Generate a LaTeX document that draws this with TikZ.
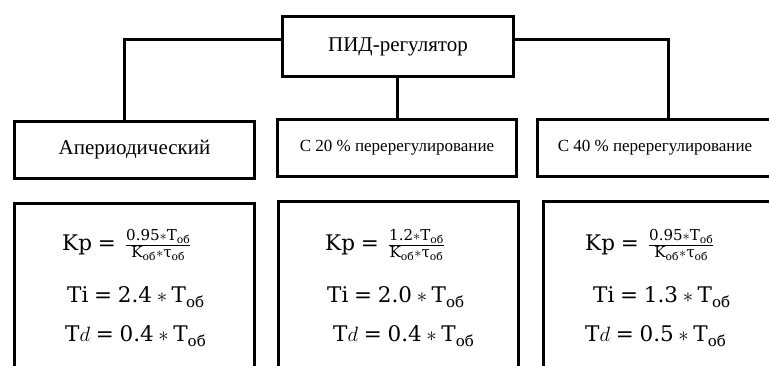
\documentclass[tikz,border=0pt]{standalone}
\usepackage{fontspec}
\usepackage{amsmath}
\setmainfont{Liberation Serif}
\newfontfamily\formfont{DejaVu Serif}
\newcommand{\tob}{\text{T}_{\text{об}}}
\newcommand{\eq}{\mathrel{\text{=}}}
\newcommand{\kpfrac}[1]{\text{Kp} \eq \,\frac{\text{#1}\ast\tob}{\text{K}_{\text{об}}\ast\text{τ}_{\text{об}}}}
\begin{document}
\begin{tikzpicture}[x=1pt, y=-1pt,
  box/.style={draw, line width=3pt, inner sep=0pt},
  conn/.style={line width=3pt},
  formula/.style={anchor=west, inner sep=0pt, font=\formfont\fontsize{21.5}{26}\selectfont}]
  \useasboundingbox (0,0) rectangle (769,365);
  \clip (0,0) rectangle (769,365);

  % top block
  \node[box, minimum width=231pt, minimum height=60pt, font=\fontsize{21}{25}\selectfont]
    (top) at (398,46.5) {ПИД-регулятор};

  % second row
  \node[box, minimum width=240pt, minimum height=57pt, font=\fontsize{21}{25}\selectfont]
    (r2a) at (134.5,150) {Апериодический};
  \node[box, minimum width=239pt, minimum height=57pt, font=\fontsize{17}{20}\selectfont]
    (r2b) at (397,148) {С 20 \% перерегулирование};
  \node[box, minimum width=235pt, minimum height=57pt, font=\fontsize{17}{20}\selectfont]
    (r2c) at (655,148) {С 40 \% перерегулирование};

  % third row (runs past the lower edge)
  \node[box, minimum width=240pt, minimum height=220pt] (r3a) at (134.5,313.5) {};
  \node[box, minimum width=240pt, minimum height=220pt] (r3b) at (398.5,311.5) {};
  \node[box, minimum width=235pt, minimum height=220pt] (r3c) at (661,311.5) {};

  % connectors
  \draw[conn] ([yshift=7.5pt]top.west) -| ([xshift=-10.5pt]r2a.north);
  \draw[conn] ([yshift=7.5pt]top.east) -| ([xshift=13pt]r2c.north);
  \draw[conn] ([xshift=-1pt]top.south) -- ([xshift=-1pt]top.south |- r2b.north);

  % formulas
  \node[formula] (ka) at (62,245)  {$\kpfrac{0.95}$};
  \node[formula] (ia) at (67,297)  {$\text{Ti} \eq \text{2.4} \ast \tob$};
  \node[formula] (da) at (65,336)  {$\text{T}d \eq \text{0.4} \ast \tob$};

  \node[formula] (kb) at (325,245) {$\kpfrac{1.2}$};
  \node[formula] (ib) at (327,297) {$\text{Ti} \eq \text{2.0} \ast \tob$};
  \node[formula] (db) at (333,336) {$\text{T}d \eq \text{0.4} \ast \tob$};

  \node[formula] (kc) at (585,245) {$\kpfrac{0.95}$};
  \node[formula] (ic) at (593,297) {$\text{Ti} \eq \text{1.3} \ast \tob$};
  \node[formula] (dc) at (585,336) {$\text{T}d \eq \text{0.5} \ast \tob$};
\end{tikzpicture}
\end{document}
